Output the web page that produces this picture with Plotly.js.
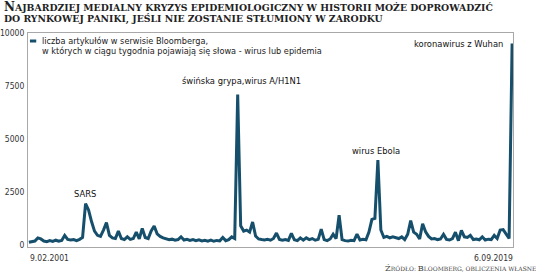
<!DOCTYPE html>
<html>
<head>
<meta charset="utf-8">
<script src="https://cdn.plot.ly/plotly-3.0.1.min.js"></script>
<style>html,body{margin:0;padding:0;background:#fff;}#chart{width:536px;height:279px;}</style>
</head>
<body>
<div id="chart"></div>
<script>
var articles = [
  120, 150, 180, 330, 280, 180, 150, 200, 160, 220,
  170, 210, 450, 260, 230, 250, 200, 260, 350, 1950,
  1650, 1100, 650, 450, 400, 700, 1050, 450, 330, 300,
  650, 300, 250, 380, 260, 300, 600, 280, 780, 350,
  300, 660, 890, 520, 400, 330, 280, 240, 270, 220,
  250, 380, 230, 260, 210, 250, 200, 240, 190, 220,
  180, 230, 170, 210, 190, 350, 200, 250, 380, 300,
  7100, 900, 650, 700, 600, 1080, 420, 280, 250, 230,
  260, 220, 300, 560, 260, 220, 250, 210, 540, 240,
  200, 330, 220, 330, 250, 300, 220, 260, 740, 250,
  200, 280, 500, 300, 1400, 250, 200, 180, 220, 200,
  510, 230, 260, 240, 600, 1200, 1250, 4000, 700, 350,
  400, 330, 380, 350, 300, 380, 250, 500, 1150, 600,
  500, 280, 1000, 620, 400, 280, 300, 250, 280, 500,
  260, 230, 300, 600, 200, 680, 380, 350, 450, 250,
  280, 240, 380, 230, 270, 250, 450, 300, 700, 720,
  500, 300, 9500
];
var weekIndex = articles.map(function (_, i) { return i; });
var xTickLabels = ["9.02.2001", "6.09.2019"];
var yTicks = [0, 2500, 5000, 7500, 10000];
var seriesName = ["liczba artykułów w serwisie Bloomberga,", "w których w ciągu tygodnia pojawiają się słowa - wirus lub epidemia"];
var peakLabels = ["SARS", "świńska grypa,wirus A/H1N1", "wirus Ebola", "koronawirus z Wuhan"];

var lineColor = "#164f6c";
var narrow = "'Liberation Sans Narrow', 'DejaVu Sans Condensed', 'Roboto Condensed', sans-serif";
var serif = "'DejaVu Serif', 'Liberation Serif', serif";

function ann(text, x, y, xa, size, color, family, ya) {
  return {text: text, x: x, y: y, xref: "paper", yref: "paper", xanchor: xa, yanchor: ya || "middle",
          showarrow: false, align: "left", font: {family: family || narrow, size: size, color: color || "#1a1a1a"}};
}

var trace = {
  x: weekIndex, y: articles, type: "scatter", mode: "lines",
  line: {color: lineColor, width: 3}, hoverinfo: "skip", showlegend: false
};

var titleHtml = "<b><span style='font-size:12px'>N</span><span style='font-size:9.3px'>AJBARDZIEJ MEDIALNY KRYZYS EPIDEMIOLOGICZNY W HISTORII MOŻE DOPROWADZIĆ</span></b>" +
  "<br><b><span style='font-size:9.3px'>DO RYNKOWEJ PANIKI, JEŚLI NIE ZOSTANIE STŁUMIONY W ZARODKU</span></b>";

var layout = {
  width: 536, height: 279,
  margin: {l: 28, r: 23, t: 33, b: 32},
  paper_bgcolor: "#fff", plot_bgcolor: "#fff",
  xaxis: {range: [-0.3, articles.length - 0.7], showgrid: false, zeroline: false,
          showline: true, mirror: true, linecolor: "#a8a8a8", linewidth: 1,
          showticklabels: false, ticks: ""},
  yaxis: {range: [-100, 10000], tickvals: yTicks, ticktext: yTicks.map(String), showgrid: false, zeroline: false,
          showline: true, mirror: true, linecolor: "#a8a8a8", linewidth: 1, ticks: "",
          ticklabelstandoff: 1,
          tickfont: {family: narrow, size: 8.5, color: "#333"}},
  shapes: [
    {type: "line", xref: "paper", yref: "paper", x0: 0.004, x1: 0.017, y0: 0.9626, y1: 0.9626,
     line: {color: lineColor, width: 3}}
  ],
  annotations: [
    {text: titleHtml, x: -0.0536, y: 1.094, xref: "paper", yref: "paper", xanchor: "left", yanchor: "middle",
     align: "left", showarrow: false, font: {family: serif, size: 8.5, color: "#222"}},
    ann(seriesName[0], 0.0247, 0.9626, "left", 9.1, "#222"),
    ann(seriesName[1], 0.0247, 0.9159, "left", 9.1, "#222"),
    ann(peakLabels[0], 0.1175, 0.252, "center", 9.3, "#111"),
    ann(peakLabels[1], 0.441, 0.780, "center", 9.3, "#111"),
    ann(peakLabels[2], 0.7175, 0.453, "center", 9.3, "#111"),
    ann(peakLabels[3], 0.9835, 0.953, "right", 9.3, "#111"),
    ann(xTickLabels[0], 0.0, -0.051, "left", 8.5, "#333"),
    ann(xTickLabels[1], 1.004, -0.051, "right", 8.5, "#333"),
    ann("Ź<span style='font-size:6px'>RÓDŁO: </span>B<span style='font-size:6px'>LOOMBERG, OBLICZENIA WŁASNE</span>", 1.052, -0.098, "right", 8.2, "#444", serif)
  ]
};

Plotly.newPlot("chart", [trace], layout, {staticPlot: true, displayModeBar: false});
</script>
</body>
</html>
